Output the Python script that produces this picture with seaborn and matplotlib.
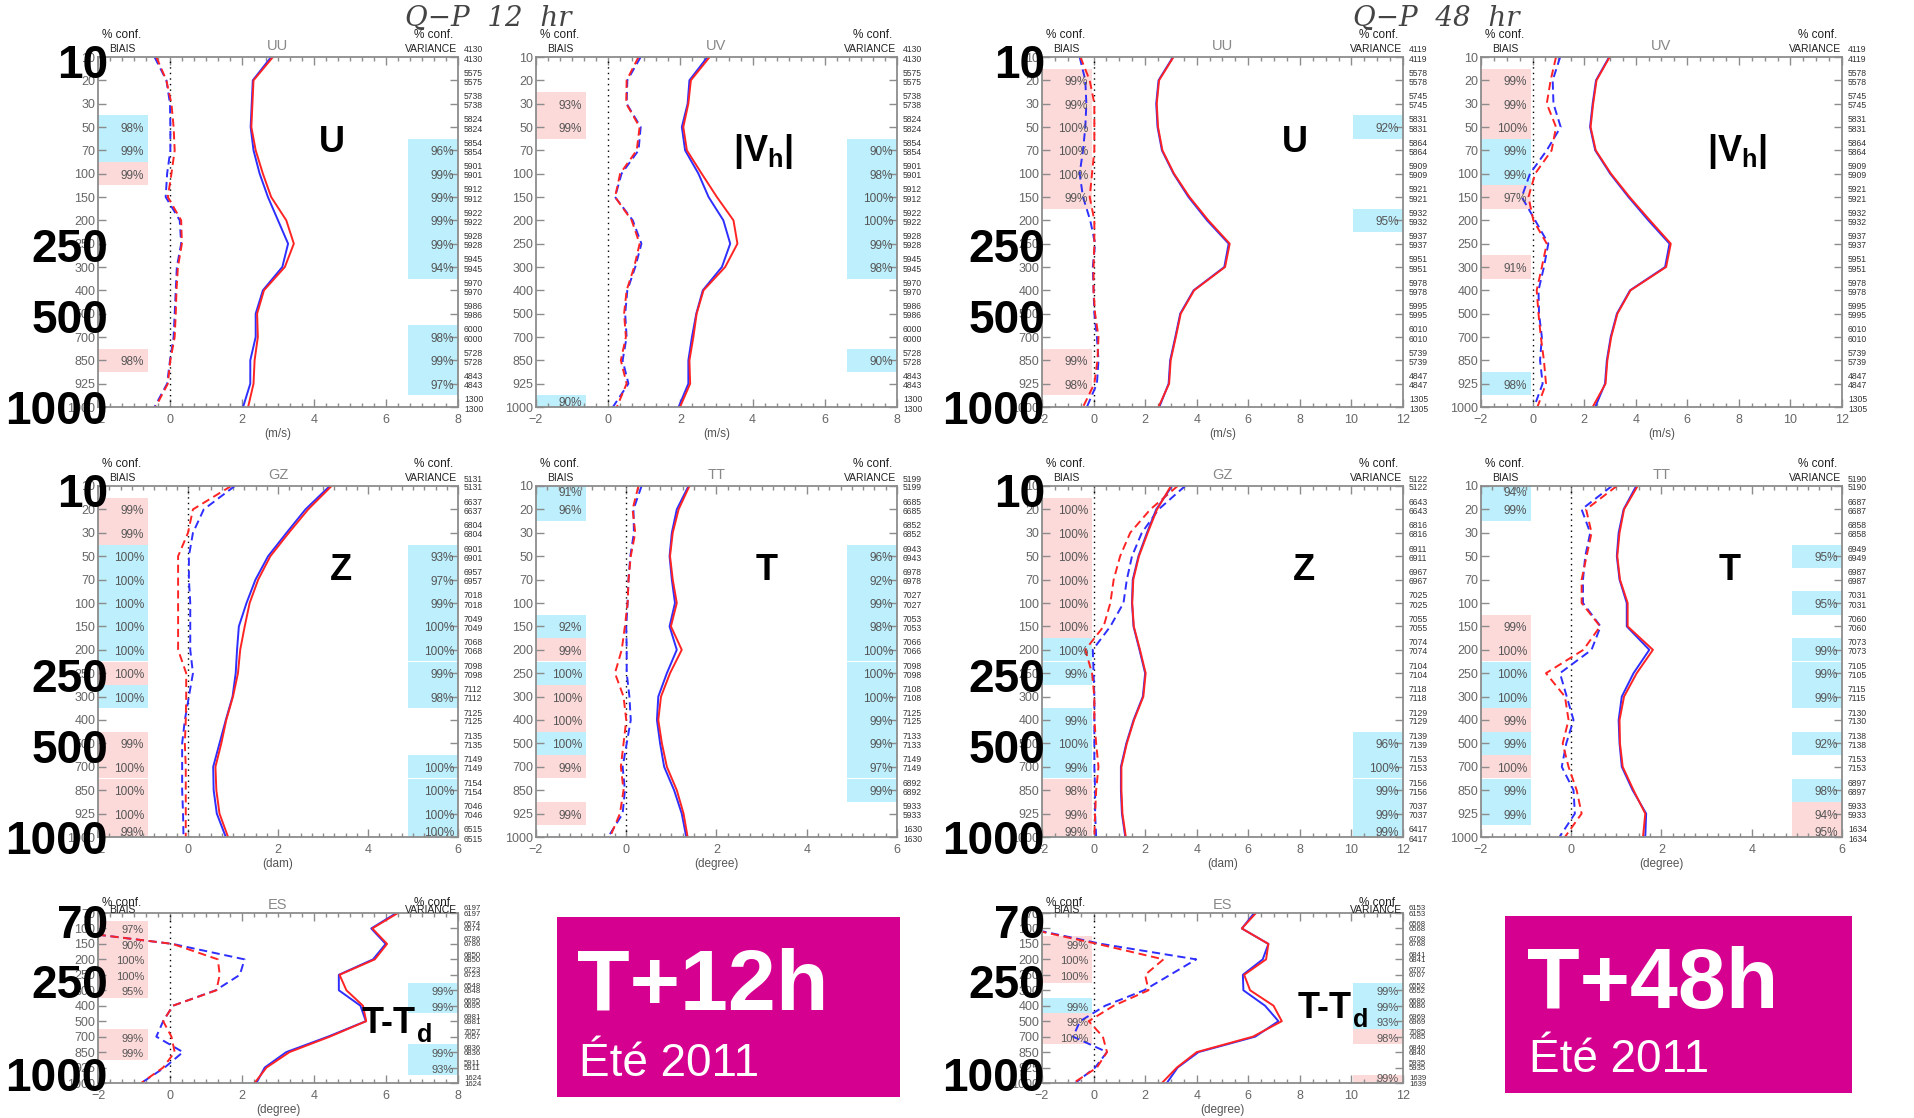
import numpy as np
import pandas as pd
import matplotlib
matplotlib.use("Agg")
import matplotlib.pyplot as plt
from matplotlib.patches import Rectangle
from matplotlib.ticker import MultipleLocator
import seaborn as sns

# ---------------- data ----------------
LEVELS = [10, 20, 30, 50, 70, 100, 150, 200, 250, 300, 400, 500, 700, 850, 925, 1000]
LEVELS_ES = [70, 100, 150, 200, 250, 300, 400, 500, 700, 850, 925, 1000]

COUNTS_WIND_12 = [4130, 5575, 5738, 5824, 5854, 5901, 5912, 5922, 5928, 5945, 5970, 5986, 6000, 5728, 4843, 1300]
COUNTS_WIND_48 = [4119, 5578, 5745, 5831, 5864, 5909, 5921, 5932, 5937, 5951, 5978, 5995, 6010, 5739, 4847, 1305]
COUNTS_GZ_12 = [5131, 6637, 6804, 6901, 6957, 7018, 7049, 7068, 7098, 7112, 7125, 7135, 7149, 7154, 7046, 6515]
COUNTS_TT_12 = [5199, 6685, 6852, 6943, 6978, 7027, 7053, 7066, 7098, 7108, 7125, 7133, 7149, 6892, 5933, 1630]
COUNTS_GZ_48 = [5122, 6643, 6816, 6911, 6967, 7025, 7055, 7074, 7104, 7118, 7129, 7139, 7153, 7156, 7037, 6417]
COUNTS_TT_48 = [5190, 6687, 6858, 6949, 6987, 7031, 7060, 7073, 7105, 7115, 7130, 7138, 7153, 6897, 5933, 1634]
COUNTS_ES_12 = [6197, 6574, 6786, 6850, 6723, 6548, 6695, 6981, 7057, 6836, 5911, 1624]
COUNTS_ES_48 = [6153, 6568, 6768, 6841, 6707, 6552, 6686, 6969, 7085, 6840, 5935, 1639]

# UU  T+12h
UU12_STD_BLUE = [2.81, 2.30, 2.27, 2.24, 2.32, 2.49, 2.72, 3.00, 3.28, 3.12, 2.58, 2.38, 2.38, 2.23, 2.23, 2.03]
UU12_STD_RED = [2.86, 2.32, 2.29, 2.26, 2.38, 2.58, 2.81, 3.23, 3.44, 3.19, 2.61, 2.42, 2.44, 2.35, 2.32, 2.17]
UU12_BIAS_BLUE = [-0.43, -0.10, 0.00, 0.01, 0.01, -0.08, -0.12, 0.27, 0.31, 0.19, 0.16, 0.13, 0.10, 0.00, -0.08, -0.43]
UU12_BIAS_RED = [-0.38, -0.10, 0.04, 0.10, 0.13, 0.04, -0.06, 0.31, 0.33, 0.22, 0.18, 0.16, 0.13, 0.01, -0.06, -0.40]
UU12_BIAS_CONF = ["", "", "", "B98", "B99", "R99", "", "", "", "", "", "", "", "R98", "", ""]
UU12_VAR_CONF = ["", "", "", "", "B96", "B99", "B99", "B99", "B99", "B94", "", "", "B98", "B99", "B97", ""]

# UV  T+12h
UV12_STD_BLUE = [2.75, 2.25, 2.20, 2.04, 2.13, 2.50, 2.78, 3.19, 3.38, 3.15, 2.62, 2.44, 2.32, 2.22, 2.22, 1.95]
UV12_STD_RED = [2.81, 2.29, 2.22, 2.08, 2.18, 2.59, 3.01, 3.47, 3.58, 3.24, 2.64, 2.45, 2.36, 2.25, 2.27, 1.99]
UV12_BIAS_BLUE = [0.90, 0.53, 0.51, 0.90, 0.84, 0.37, 0.19, 0.68, 0.92, 0.75, 0.53, 0.47, 0.51, 0.40, 0.56, 0.13]
UV12_BIAS_RED = [0.84, 0.51, 0.50, 0.87, 0.79, 0.33, 0.19, 0.65, 0.87, 0.72, 0.51, 0.44, 0.49, 0.35, 0.51, 0.24]
UV12_BIAS_CONF = ["", "", "R93", "R99", "", "", "", "", "", "", "", "", "", "", "", "B90"]
UV12_VAR_CONF = ["", "", "", "", "B90", "B98", "B100", "B100", "B99", "B98", "", "", "", "B90", "", ""]

# UU  T+48h
UU48_STD_BLUE = [3.08, 2.52, 2.43, 2.48, 2.65, 3.10, 3.68, 4.40, 5.24, 5.07, 3.88, 3.36, 3.17, 2.97, 2.91, 2.55]
UU48_STD_RED = [3.10, 2.54, 2.45, 2.50, 2.67, 3.12, 3.72, 4.45, 5.28, 5.10, 3.90, 3.38, 3.19, 2.99, 2.93, 2.52]
UU48_BIAS_BLUE = [-0.54, -0.32, -0.28, -0.32, -0.41, -0.54, -0.41, -0.13, 0.06, -0.03, 0.00, 0.03, 0.13, 0.19, 0.13, -0.26]
UU48_BIAS_RED = [-0.51, -0.15, 0.03, 0.03, 0.03, -0.06, -0.15, 0.03, 0.03, 0.00, 0.00, 0.06, 0.19, 0.15, 0.03, -0.41]
UU48_BIAS_CONF = ["", "R99", "R99", "R100", "R100", "R100", "R99", "", "", "", "", "", "", "R99", "R98", ""]
UU48_VAR_CONF = ["", "", "", "B92", "", "", "", "B95", "", "", "", "", "", "", "", ""]

# UV  T+48h
UV48_STD_BLUE = [2.97, 2.46, 2.33, 2.23, 2.43, 3.01, 3.72, 4.49, 5.31, 5.14, 3.78, 3.27, 3.03, 2.88, 2.81, 2.43]
UV48_STD_RED = [2.99, 2.48, 2.35, 2.25, 2.45, 3.04, 3.76, 4.55, 5.36, 5.18, 3.80, 3.29, 3.05, 2.90, 2.83, 2.33]
UV48_BIAS_BLUE = [1.07, 0.78, 0.81, 1.09, 0.55, -0.10, -0.42, 0.10, 0.61, 0.44, 0.23, 0.25, 0.36, 0.29, 0.39, 0.06]
UV48_BIAS_RED = [0.91, 0.70, 0.55, 0.91, 0.74, 0.10, -0.16, 0.03, 0.55, 0.36, 0.16, 0.23, 0.32, 0.44, 0.52, 0.19]
UV48_BIAS_CONF = ["", "R99", "R99", "R100", "B99", "B99", "R97", "", "", "R91", "", "", "", "", "B98", ""]
UV48_VAR_CONF = [""] * 16

# GZ  T+12h
GZ12_STD_BLUE = [3.15, 2.61, 2.19, 1.78, 1.50, 1.30, 1.13, 1.09, 1.06, 0.99, 0.84, 0.70, 0.56, 0.57, 0.64, 0.84]
GZ12_STD_RED = [3.19, 2.67, 2.24, 1.83, 1.56, 1.37, 1.26, 1.16, 1.11, 1.00, 0.85, 0.74, 0.61, 0.63, 0.70, 0.89]
GZ12_BIAS_BLUE = [1.04, 0.35, 0.11, 0.02, 0.02, 0.05, 0.05, 0.05, 0.11, 0.02, -0.07, -0.13, -0.13, -0.13, -0.11, -0.10]
GZ12_BIAS_RED = [0.96, 0.11, 0.00, -0.22, -0.22, -0.22, -0.22, -0.22, -0.04, -0.04, -0.05, -0.07, -0.05, -0.05, -0.05, -0.05]
GZ12_BIAS_CONF = ["", "R99", "R99", "B100", "B100", "B100", "B100", "B100", "R100", "B100", "", "R99", "R100", "R100", "R100", "R99"]
GZ12_VAR_CONF = ["", "", "", "B93", "B97", "B99", "B100", "B100", "B99", "B98", "", "", "B100", "B100", "B100", "B100"]

# TT  T+12h
TT12_STD_BLUE = [1.38, 1.12, 1.01, 0.96, 1.01, 1.08, 0.96, 1.12, 0.90, 0.71, 0.68, 0.75, 0.84, 1.06, 1.23, 1.33]
TT12_STD_RED = [1.40, 1.16, 1.03, 0.97, 1.03, 1.12, 0.99, 1.23, 0.97, 0.77, 0.71, 0.79, 0.90, 1.12, 1.27, 1.36]
TT12_BIAS_BLUE = [0.34, 0.16, 0.17, 0.09, 0.05, 0.03, 0.00, 0.01, 0.01, 0.07, 0.10, 0.01, -0.08, -0.03, -0.08, -0.40]
TT12_BIAS_RED = [0.27, 0.14, 0.20, 0.10, 0.05, 0.03, -0.03, -0.10, -0.25, -0.06, 0.00, -0.06, -0.12, -0.06, -0.14, -0.36]
TT12_BIAS_CONF = ["B91", "B96", "", "", "", "", "B92", "R99", "B100", "R100", "R100", "B100", "R99", "", "R99", ""]
TT12_VAR_CONF = ["", "", "", "B96", "B92", "B99", "B98", "B100", "B100", "B100", "B99", "B99", "B97", "B99", "", ""]

# GZ  T+48h
GZ48_STD_BLUE = [3.04, 2.43, 2.07, 1.74, 1.52, 1.49, 1.55, 1.78, 2.00, 1.91, 1.55, 1.27, 1.06, 1.06, 1.10, 1.23]
GZ48_STD_RED = [3.00, 2.46, 2.10, 1.76, 1.54, 1.50, 1.56, 1.80, 2.02, 1.93, 1.57, 1.29, 1.08, 1.08, 1.12, 1.25]
GZ48_BIAS_BLUE = [3.55, 2.52, 1.87, 1.49, 1.29, 1.16, 0.65, -0.03, 0.00, 0.03, 0.03, 0.03, 0.03, 0.06, 0.06, 0.10]
GZ48_BIAS_RED = [3.26, 2.20, 1.42, 1.03, 0.78, 0.65, 0.39, -0.32, -0.06, 0.03, 0.03, 0.10, 0.19, 0.10, 0.06, 0.03]
GZ48_BIAS_CONF = ["", "R100", "R100", "R100", "R100", "R100", "R100", "B100", "B99", "", "B99", "B100", "B99", "R98", "R99", "R99"]
GZ48_VAR_CONF = ["", "", "", "", "", "", "", "", "", "", "", "B96", "B100", "B99", "B99", "B99"]

# TT  T+48h
TT48_STD_BLUE = [1.44, 1.16, 1.05, 1.01, 1.07, 1.23, 1.23, 1.73, 1.38, 1.12, 1.05, 1.07, 1.12, 1.36, 1.66, 1.64]
TT48_STD_RED = [1.47, 1.17, 1.07, 1.02, 1.08, 1.25, 1.25, 1.81, 1.45, 1.17, 1.07, 1.08, 1.14, 1.38, 1.64, 1.59]
TT48_BIAS_BLUE = [0.90, 0.23, 0.42, 0.31, 0.26, 0.26, 0.65, 0.45, -0.25, -0.10, 0.05, -0.11, -0.21, 0.05, 0.08, -0.26]
TT48_BIAS_RED = [1.01, 0.33, 0.45, 0.34, 0.23, 0.23, 0.64, 0.27, -0.56, -0.14, -0.06, -0.19, -0.06, 0.12, 0.23, -0.14]
TT48_BIAS_CONF = ["B94", "B99", "", "", "", "", "R99", "R100", "B100", "B100", "R99", "B99", "R100", "B99", "B99", ""]
TT48_VAR_CONF = ["", "", "", "B95", "", "B95", "", "B99", "B99", "B99", "", "B92", "", "B98", "R94", "R95"]

# ES (T-Td)  T+12h
ES12_STD_BLUE = [6.29, 5.59, 5.99, 5.64, 4.69, 4.69, 5.29, 5.44, 4.39, 3.23, 2.63, 2.40]
ES12_STD_RED = [6.33, 5.62, 6.03, 5.69, 4.71, 4.90, 5.36, 5.45, 4.44, 3.32, 2.68, 2.35]
ES12_BIAS_BLUE = [-4.0, -3.4, 0.07, 2.07, 1.94, 1.27, 0.08, -0.19, -0.38, 0.36, -0.15, -0.80]
ES12_BIAS_RED = [-4.0, -3.4, 0.07, 1.33, 1.38, 1.29, 0.08, -0.19, 0.04, 0.13, -0.19, -0.80]
ES12_BIAS_CONF = ["", "R97", "R90", "R100", "R100", "R95", "", "", "R99", "R99", "", ""]
ES12_VAR_CONF = ["", "", "", "", "", "B99", "B99", "", "", "B99", "B93", ""]

# ES (T-Td)  T+48h
ES48_STD_BLUE = [6.23, 5.75, 6.78, 6.56, 5.79, 5.81, 6.65, 7.17, 6.27, 4.07, 3.26, 2.84]
ES48_STD_RED = [6.30, 5.75, 6.78, 6.69, 5.84, 6.07, 6.98, 7.30, 6.18, 4.00, 3.23, 2.65]
ES48_BIAS_BLUE = [-4.0, -2.5, 0.30, 3.98, 2.97, 1.96, 0.45, -0.52, -0.80, 0.52, 0.06, -0.71]
ES48_BIAS_RED = [-4.0, -2.6, 0.15, 2.71, 2.00, 2.13, 0.78, -0.19, 0.36, 0.52, 0.13, -0.78]
ES48_BIAS_CONF = ["", "", "R99", "R100", "R100", "", "B99", "R99", "R100", "", "", ""]
ES48_VAR_CONF = ["", "", "", "", "", "B99", "B99", "B93", "R98", "", "", "R99"]

# ---------------- style ----------------
sns.set_theme(style="white")
plt.rcParams["font.family"] = ["Liberation Sans", "DejaVu Sans"]
plt.rcParams["mathtext.fontset"] = "custom"
plt.rcParams["mathtext.rm"] = "Liberation Sans"
plt.rcParams["mathtext.bf"] = "Liberation Sans:bold"
plt.rcParams["mathtext.it"] = "Liberation Sans:italic"

W, H = 1915, 1118
fig = plt.figure(figsize=(W / 100, H / 100), dpi=100)
fig.patch.set_facecolor("white")

BLUE = "#2e2eff"
RED = "#ff2424"
BOX_BLUE = "#bdeffc"
BOX_RED = "#fddada"
MAGENTA = "#d5008f"
BOXW = 0.139
DASH = (0, (4.2, 2.4))
SPINE = "#8c8c8c"


def ftext(px, py, s, **kw):
    return fig.text(px / W, 1 - py / H, s, **kw)


ROW1 = (57, 407)
ROW2 = (486, 837)
ROW3 = (913, 1083)
COLS = [(98, 458), (536, 897), (1042, 1403), (1481, 1842)]

BIG16 = [(0, "10", 5), (8, "250", 2), (11, "500", 3), (15, "1000", 1)]
BIG12 = [(0, "70", 9), (4, "250", 7), (11, "1000", -8)]

panels = [
    dict(box=(COLS[0][0], ROW1[0], COLS[0][1], ROW1[1]), levels=LEVELS, xmax=8, minor=1 / 3, name="UU", unit="(m/s)",
         std_b=UU12_STD_BLUE, std_r=UU12_STD_RED, bias_b=UU12_BIAS_BLUE, bias_r=UU12_BIAS_RED,
         counts=COUNTS_WIND_12, bconf=UU12_BIAS_CONF, vconf=UU12_VAR_CONF,
         var="U", var_pos=(0.65, 0.755), big=BIG16, big_dx=10),
    dict(box=(COLS[1][0], ROW1[0], COLS[1][1], ROW1[1]), levels=LEVELS, xmax=8, minor=1 / 3, name="UV", unit="(m/s)",
         std_b=UV12_STD_BLUE, std_r=UV12_STD_RED, bias_b=UV12_BIAS_BLUE, bias_r=UV12_BIAS_RED,
         counts=COUNTS_WIND_12, bconf=UV12_BIAS_CONF, vconf=UV12_VAR_CONF,
         var=r"$\mathbf{|V_h|}$", var_pos=(0.63, 0.73), big=None),
    dict(box=(COLS[2][0], ROW1[0], COLS[2][1], ROW1[1]), levels=LEVELS, xmax=12, minor=0.5, name="UU", unit="(m/s)",
         std_b=UU48_STD_BLUE, std_r=UU48_STD_RED, bias_b=UU48_BIAS_BLUE, bias_r=UU48_BIAS_RED,
         counts=COUNTS_WIND_48, bconf=UU48_BIAS_CONF, vconf=UU48_VAR_CONF,
         var="U", var_pos=(0.70, 0.755), big=BIG16, big_dx=3),
    dict(box=(COLS[3][0], ROW1[0], COLS[3][1], ROW1[1]), levels=LEVELS, xmax=12, minor=0.5, name="UV", unit="(m/s)",
         std_b=UV48_STD_BLUE, std_r=UV48_STD_RED, bias_b=UV48_BIAS_BLUE, bias_r=UV48_BIAS_RED,
         counts=COUNTS_WIND_48, bconf=UV48_BIAS_CONF, vconf=UV48_VAR_CONF,
         var=r"$\mathbf{|V_h|}$", var_pos=(0.71, 0.73), big=None),
    dict(box=(COLS[0][0], ROW2[0], COLS[0][1], ROW2[1]), levels=LEVELS, xmax=6, minor=0.25, name="GZ", unit="(dam)",
         std_b=GZ12_STD_BLUE, std_r=GZ12_STD_RED, bias_b=GZ12_BIAS_BLUE, bias_r=GZ12_BIAS_RED,
         counts=COUNTS_GZ_12, bconf=GZ12_BIAS_CONF, vconf=GZ12_VAR_CONF,
         var="Z", var_pos=(0.675, 0.76), big=BIG16, big_dx=10),
    dict(box=(COLS[1][0], ROW2[0], COLS[1][1], ROW2[1]), levels=LEVELS, xmax=6, minor=0.25, name="TT", unit="(degree)",
         std_b=TT12_STD_BLUE, std_r=TT12_STD_RED, bias_b=TT12_BIAS_BLUE, bias_r=TT12_BIAS_RED,
         counts=COUNTS_TT_12, bconf=TT12_BIAS_CONF, vconf=TT12_VAR_CONF,
         var="T", var_pos=(0.64, 0.76), big=None),
    dict(box=(COLS[2][0], ROW2[0], COLS[2][1], ROW2[1]), levels=LEVELS, xmax=12, minor=0.5, name="GZ", unit="(dam)",
         std_b=GZ48_STD_BLUE, std_r=GZ48_STD_RED, bias_b=GZ48_BIAS_BLUE, bias_r=GZ48_BIAS_RED,
         counts=COUNTS_GZ_48, bconf=GZ48_BIAS_CONF, vconf=GZ48_VAR_CONF,
         var="Z", var_pos=(0.725, 0.76), big=BIG16, big_dx=3),
    dict(box=(COLS[3][0], ROW2[0], COLS[3][1], ROW2[1]), levels=LEVELS, xmax=6, minor=0.25, name="TT", unit="(degree)",
         std_b=TT48_STD_BLUE, std_r=TT48_STD_RED, bias_b=TT48_BIAS_BLUE, bias_r=TT48_BIAS_RED,
         counts=COUNTS_TT_48, bconf=TT48_BIAS_CONF, vconf=TT48_VAR_CONF,
         var="T", var_pos=(0.69, 0.76), big=None),
    dict(box=(COLS[0][0], ROW3[0], COLS[0][1], ROW3[1]), levels=LEVELS_ES, xmax=8, minor=1 / 3, name="ES", unit="(degree)",
         std_b=ES12_STD_BLUE, std_r=ES12_STD_RED, bias_b=ES12_BIAS_BLUE, bias_r=ES12_BIAS_RED,
         counts=COUNTS_ES_12, bconf=ES12_BIAS_CONF, vconf=ES12_VAR_CONF,
         var=None, ttd=(362, 1033), big=BIG12, big_dx=10, row3=True),
    dict(box=(COLS[2][0], ROW3[0], COLS[2][1], ROW3[1]), levels=LEVELS_ES, xmax=12, minor=0.5, name="ES", unit="(degree)",
         std_b=ES48_STD_BLUE, std_r=ES48_STD_RED, bias_b=ES48_BIAS_BLUE, bias_r=ES48_BIAS_RED,
         counts=COUNTS_ES_48, bconf=ES48_BIAS_CONF, vconf=ES48_VAR_CONF,
         var=None, ttd=(1298, 1018), big=BIG12, big_dx=3, row3=True),
]


def draw_panel(p):
    x0, y0, x1, y1 = p["box"]
    levels = p["levels"]
    n = len(levels)
    idx = np.arange(n)
    row3 = p.get("row3", False)
    ax = fig.add_axes([x0 / W, 1 - y1 / H, (x1 - x0) / W, (y1 - y0) / H])
    ax.set_facecolor("white")
    ytr = ax.get_yaxis_transform()

    pct_fs = 8.0 if row3 else 8.5
    for conf, xa, xb in ((p["bconf"], 0.0, BOXW), (p["vconf"], 1 - BOXW, 1.0)):
        for i, s in enumerate(conf):
            if not s:
                continue
            ax.axhspan(i - 0.5, i + 0.5, xmin=xa, xmax=xb,
                       color=BOX_BLUE if s[0] == "B" else BOX_RED, lw=0, zorder=0.5)
            dy = -2
            if i == 0:
                dy = -7
            elif i == n - 1:
                dy = 4
            ax.annotate(s[1:] + "%", xy=(xb, i), xycoords=ytr, xytext=(-4, dy),
                        textcoords="offset pixels", ha="right", va="center",
                        fontsize=pct_fs, color="#555555", zorder=3, annotation_clip=False)

    ax.axvline(0, color="black", ls=(0, (1, 3)), lw=1.0, zorder=1)

    df = pd.DataFrame({"level": idx, "std_b": p["std_b"], "std_r": p["std_r"],
                       "bias_b": p["bias_b"], "bias_r": p["bias_r"]})
    for col, c, ls in (("bias_b", BLUE, DASH), ("bias_r", RED, DASH),
                       ("std_b", BLUE, "-"), ("std_r", RED, "-")):
        sns.lineplot(data=df, x=col, y="level", orient="y", estimator=None, sort=False,
                     color=c, linestyle=ls, linewidth=1.4, ax=ax, zorder=2)

    ax.set_xlim(-2, p["xmax"])
    ax.set_ylim(n - 1, 0)
    ax.xaxis.set_major_locator(MultipleLocator(2))
    ax.xaxis.set_minor_locator(MultipleLocator(p["minor"]))
    ax.set_yticks(idx)
    ax.set_yticklabels([str(v) for v in levels])
    ax.tick_params(which="both", direction="in", top=True, right=True, bottom=True, left=True,
                   color=SPINE, width=1.0, labelcolor="#666666", labelsize=9)
    ax.tick_params(which="major", length=6)
    ax.tick_params(which="minor", length=3)
    ax.tick_params(axis="y", pad=2)
    ax.tick_params(axis="x", pad=5)
    ax.set_xlabel("")
    ax.set_ylabel("")
    ax.grid(False)
    for sp in ax.spines.values():
        sp.set_color(SPINE)
        sp.set_linewidth(1.3)

    # observation counts on the right
    up, dn = (4, -1) if row3 else (7, -2)
    cfs = 5.6 if row3 else 6.2
    for i, c in enumerate(p["counts"]):
        for dy in (up, dn):
            ax.annotate(str(c), xy=(1, i), xycoords=ytr, xytext=(6, dy),
                        textcoords="offset pixels", ha="left", va="center",
                        fontsize=cfs, color="#333333", annotation_clip=False)

    # labels above / below
    d_conf, d_lab, d_title = (-10, -3, -8) if row3 else (-22, -8, -11)
    ftext(x0 + 4, y0 + d_conf, "% conf.", ha="left", va="center", fontsize=8.5, color="#222222")
    ftext(x0 + 11, y0 + d_lab, "BIAIS", ha="left", va="center", fontsize=7.5, color="#222222")
    ftext(x1 - 5, y0 + d_conf, "% conf.", ha="right", va="center", fontsize=8.5, color="#222222")
    ftext(x1 - 1, y0 + d_lab, "VARIANCE", ha="right", va="center", fontsize=7.5, color="#222222")
    ftext((x0 + x1) / 2, y0 + d_title, p["name"], ha="center", va="center", fontsize=10.5, color="#888888")
    ftext((x0 + x1) / 2, y1 + 27, p["unit"], ha="center", va="center", fontsize=8.5, color="#555555")

    # big variable label
    if p.get("var"):
        vx, vy = p["var_pos"]
        ax.text(vx, vy, p["var"], transform=ax.transAxes, ha="center", va="center",
                fontsize=26, fontweight="bold", color="black", zorder=6)
    if p.get("ttd"):
        lx, base = p["ttd"]
        t = ftext(lx, base, "T-T", ha="left", va="baseline", fontsize=26, fontweight="bold", color="black")
        bb = t.get_window_extent(renderer=fig.canvas.get_renderer())
        fig.text((bb.x1 + 1) / W, 1 - (base + 9) / H, "d", ha="left", va="baseline",
                 fontsize=18, fontweight="bold", color="black")

    # big pressure-level labels
    if p.get("big"):
        for i, lab, off in p["big"]:
            py = y0 + i * (y1 - y0) / (n - 1) + off + 16.4
            ftext(x0 + p["big_dx"], py, lab, ha="right", va="baseline", fontsize=33,
                  fontweight="bold", color="black", zorder=10)
    return ax


for p in panels:
    draw_panel(p)

# titles
ftext(488, 19, "Q\u2212P  12  hr", ha="center", va="center", fontsize=20,
      family="DejaVu Serif", style="italic", color="#444444")
ftext(1436, 19, "Q\u2212P  48  hr", ha="center", va="center", fontsize=20,
      family="DejaVu Serif", style="italic", color="#444444")

# magenta boxes
BOXES = [((557, 917, 900, 1097), "T+12h", "Été 2011", (577, 1010, 1076)),
         ((1505, 916, 1852, 1093), "T+48h", "Été 2011", (1527, 1008, 1072))]
for (bx0, by0, bx1, by1), main, sub, (tx, b1, b2) in BOXES:
    fig.add_artist(Rectangle((bx0 / W, 1 - by1 / H), (bx1 - bx0) / W, (by1 - by0) / H,
                             transform=fig.transFigure, facecolor=MAGENTA, edgecolor="none", zorder=1))
    ftext(tx, b1, main, ha="left", va="baseline", fontsize=62, fontweight="bold", color="white", zorder=2)
    ftext(tx + 2, b2, sub, ha="left", va="baseline", fontsize=33, color="white", zorder=2)

fig.savefig("out.png", dpi=100, facecolor="white")
